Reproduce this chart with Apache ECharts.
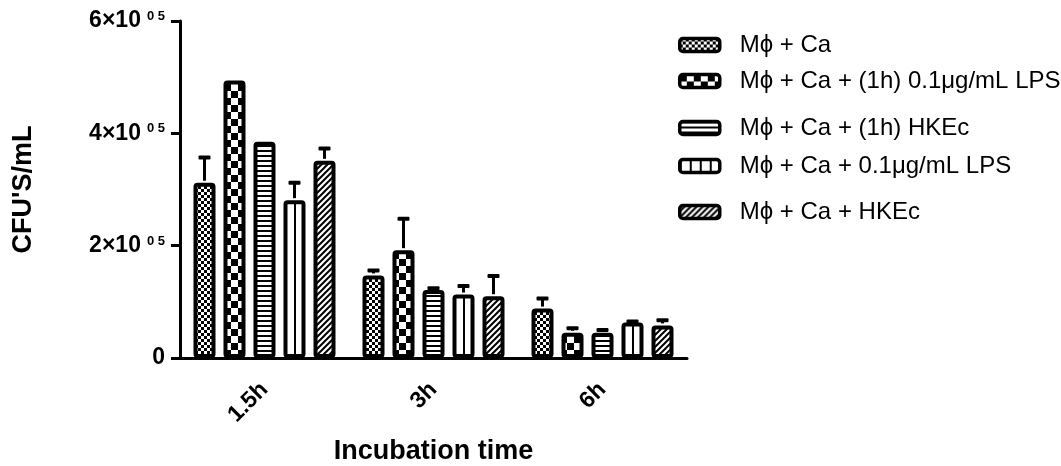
<!DOCTYPE html>
<html>
<head>
<meta charset="utf-8">
<script src="https://cdn.jsdelivr.net/npm/echarts@6/dist/echarts.min.js"></script>
<style>
html,body{margin:0;padding:0;background:#fff;}
#main{width:1061px;height:466px;}
</style>
</head>
<body>
<div id="main"></div>
<script>
// ---- data ----
const categories = ['1.5h', '3h', '6h'];
const seriesNames = [
  'Mϕ + Ca',
  'Mϕ + Ca + (1h) 0.1μg/mL LPS',
  'Mϕ + Ca + (1h) HKEc',
  'Mϕ + Ca + 0.1μg/mL LPS',
  'Mϕ + Ca + HKEc'
];
const meanCa     = [312000, 147000, 88000];
const meanLps1h  = [494000, 192000, 45000];
const meanHk1h   = [385000, 121000, 45000];
const meanLps    = [281000, 113000, 63000];
const meanHk     = [351000, 110000, 58000];
const errCa      = [45000, 9000, 18000];
const errLps1h   = [0, 56000, 8000];
const errHk1h    = [0, 3000, 5000];
const errLps     = [31000, 15000, 2000];
const errHk      = [22000, 36000, 9000];
const yMax = 600000;
const yStep = 200000;

const means = [meanCa, meanLps1h, meanHk1h, meanLps, meanHk];
const errs = [errCa, errLps1h, errHk1h, errLps, errHk];

// ---- patterns ----
function mk(w, h, draw) {
  const c = document.createElement('canvas');
  c.width = w; c.height = h;
  const g = c.getContext('2d');
  g.fillStyle = '#fff'; g.fillRect(0, 0, w, h);
  g.fillStyle = '#000'; g.strokeStyle = '#000';
  draw(g);
  return { image: c, repeat: 'repeat' };
}
const patFine = mk(6, 6, g => { g.fillRect(0, 0, 3, 3); g.fillRect(3, 3, 3, 3); });
const patBig = mk(14, 14, g => { g.fillRect(0, 0, 7, 7); g.fillRect(7, 7, 7, 7); });
const patHoriz = mk(6, 5, g => { g.fillRect(0, 0, 6, 2); });
const patVert = mk(10, 6, g => { g.fillRect(0, 0, 2, 6); });
const patDiag = mk(6, 6, g => {
  g.lineWidth = 2;
  g.beginPath();
  g.moveTo(-1, 7); g.lineTo(7, -1);
  g.moveTo(-4, 4); g.lineTo(4, -4);
  g.moveTo(2, 10); g.lineTo(10, 2);
  g.stroke();
});
const patterns = [patFine, patBig, patHoriz, patVert, patDiag];

const FONT = "'Liberation Sans', Arial, sans-serif";
const BAR_W = 22;
const BAR_GAP = 8 / 22;
const SLOT = BAR_W * (1 + BAR_GAP);

const chart = echarts.init(document.getElementById('main'), null, { renderer: 'canvas' });

const barSeries = seriesNames.map((n, i) => ({
  name: n,
  type: 'bar',
  data: means[i],
  barWidth: BAR_W,
  barGap: (BAR_GAP * 100) + '%',
  itemStyle: { color: patterns[i], borderColor: '#000', borderWidth: 4, borderRadius: 2 },
  emphasis: { disabled: true },
  z: 2
}));

const errData = [];
for (let s = 0; s < 5; s++) {
  for (let c = 0; c < categories.length; c++) {
    errData.push([c, s, means[s][c], errs[s][c]]);
  }
}

const legendCenters = [45, 81, 128, 166, 212];
const legends = seriesNames.map((n, i) => ({
  data: [n],
  left: 678,
  top: legendCenters[i] - 13,
  padding: 0,
  icon: 'roundRect',
  itemWidth: 40,
  itemHeight: 13,
  selectedMode: false,
  itemStyle: { borderColor: '#000', borderWidth: 3.5 },
  textStyle: { fontFamily: FONT, fontSize: 24, color: '#000', lineHeight: 26, padding: [0, 0, 0, 15] }
}));

const option = {
  animation: false,
  backgroundColor: '#fff',
  grid: { left: 180, right: 374, top: 21, bottom: 108, containLabel: false, outerBoundsMode: 'none' },
  legend: legends,
  xAxis: {
    type: 'category',
    data: categories,
    name: 'Incubation time',
    nameLocation: 'middle',
    nameGap: 80,
    nameMoveOverlap: false,
    nameTextStyle: { fontFamily: FONT, fontSize: 27, fontWeight: 'bold', color: '#000' },
    axisLine: { lineStyle: { color: '#000', width: 3 } },
    axisTick: { alignWithLabel: true, length: 8, lineStyle: { color: '#000', width: 3 } },
    axisLabel: { rotate: 45, margin: 28, fontFamily: FONT, fontSize: 23, fontWeight: 'bold', color: '#000' },
    splitLine: { show: false }
  },
  yAxis: {
    type: 'value',
    min: 0,
    max: yMax,
    interval: yStep,
    name: "CFU'S/mL",
    nameLocation: 'middle',
    nameGap: 143,
    nameMoveOverlap: false,
    nameTextStyle: { fontFamily: FONT, fontSize: 27, fontWeight: 'bold', color: '#000' },
    axisLine: { show: true, lineStyle: { color: '#000', width: 3 } },
    axisTick: { show: true, length: 9, lineStyle: { color: '#000', width: 3 } },
    splitLine: { show: false },
    axisLabel: {
      margin: 15,
      fontFamily: FONT,
      color: '#000',
      formatter: v => v === 0 ? '{b|0}' : '{b|' + (v / 1e5) + '×10}{s|0 5}',
      rich: {
        b: { fontFamily: FONT, fontSize: 23, fontWeight: 'bold', color: '#000' },
        s: { fontFamily: FONT, fontSize: 13, fontWeight: 'bold', color: '#000', padding: [0, 0, 9, 6] }
      }
    }
  },
  series: barSeries.concat([{
    type: 'custom',
    name: 'err',
    data: errData,
    encode: { x: 0, y: 2 },
    z: 5,
    silent: true,
    renderItem: function (params, api) {
      const c = api.value(0), s = api.value(1), v = api.value(2), e = api.value(3);
      if (!e) return null;
      const base = api.coord([c, v]);
      const top = api.coord([c, v + e]);
      const x = base[0] + (s - 2) * SLOT;
      return {
        type: 'group',
        children: [
          { type: 'line', shape: { x1: x, y1: base[1] - 2, x2: x, y2: top[1] }, style: { stroke: '#000', lineWidth: 3 } },
          { type: 'rect', shape: { x: x - 6, y: top[1] - 2, width: 12, height: 4, r: 1 }, style: { fill: '#000' } }
        ]
      };
    }
  }])
};

chart.setOption(option);

// per-item vertical-line pattern so the single line sits at each bar's centre
const vertItems = meanLps.map((v, c) => {
  const cx = chart.convertToPixel({ xAxisIndex: 0 }, c) + (3 - 2) * SLOT;
  const W = 40;
  const off = ((Math.round(cx) - 1) % W + W) % W;
  const pat = mk(W, 4, g => { g.fillRect(off, 0, 2, 4); });
  return { value: v, itemStyle: { color: pat } };
});
chart.setOption({ series: [{}, {}, {}, { data: vertItems }] });
</script>
</body>
</html>
